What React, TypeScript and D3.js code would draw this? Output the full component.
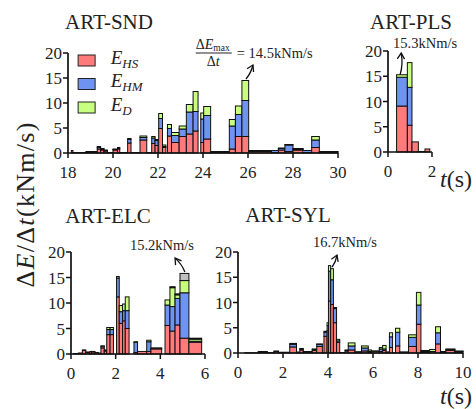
import React from "react";
import * as d3 from "d3";

const FONT = "Liberation Serif";

// each bar: [t0, t1, E_HS, E_HM, E_D, other]
const sndBars: number[][] = [
  [18.15, 18.22, 0.5, 0, 0, 0],
  [18.22, 18.8, 0.1, 0, 0, 0],
  [18.8, 19.3, 0.2, 0, 0.1, 0],
  [19.3, 19.45, 0.8, 0.3, 0.2, 0],
  [19.45, 19.6, 0.6, 0.2, 0.1, 0],
  [19.6, 19.75, 0.4, 0.1, 0.1, 0],
  [19.75, 20.0, 0.1, 0, 0, 0],
  [20.0, 20.2, 0.6, 0.1, 0.1, 0],
  [20.2, 20.3, 0.8, 0.2, 0.1, 0],
  [20.3, 20.65, 0.1, 0, 0, 0],
  [20.65, 20.8, 2.0, 0.7, 0.2, 0],
  [20.8, 21.2, 0.1, 0, 0, 0],
  [21.2, 21.5, 2.6, 0.5, 0.3, 0],
  [21.5, 21.72, 0.1, 0, 0, 0],
  [21.72, 21.87, 1.9, 1.1, 0.3, 0],
  [21.87, 22.0, 1.5, 1.0, 0.2, 0],
  [22.03, 22.2, 4.9, 2.0, 1.0, 0],
  [22.2, 22.35, 1.1, 0.2, 0.3, 0],
  [22.42, 22.6, 3.4, 1.5, 0.8, 0],
  [22.6, 22.94, 2.1, 1.4, 0.6, 0],
  [22.94, 23.26, 3.3, 1.5, 0.6, 0],
  [23.26, 23.56, 3.8, 4.4, 1.5, 0],
  [23.56, 23.78, 4.4, 3.9, 4.0, 0],
  [23.9, 24.03, 2.1, 4.7, 1.2, 0],
  [24.03, 24.34, 2.8, 4.7, 1.8, 0],
  [24.34, 25.17, 0.2, 0, 0.1, 0],
  [25.17, 25.44, 0.8, 4.6, 1.3, 0],
  [25.44, 25.73, 3.3, 4.4, 1.7, 0],
  [25.73, 26.03, 3.3, 7.2, 4.0, 0],
  [26.03, 27.05, 0.3, 0, 0.2, 0],
  [27.05, 27.35, 0.1, 0.4, 0, 0],
  [27.35, 27.64, 0.6, 0.3, 0.1, 0],
  [27.64, 28.0, 0.3, 1.3, 0.1, 0],
  [28.0, 28.45, 0.6, 0.2, 0.1, 0],
  [28.45, 28.83, 0.1, 0.4, 0, 0],
  [28.83, 29.17, 1.1, 1.5, 0.7, 0],
  [29.17, 30.0, 0.2, 0, 0.1, 0],
];

const plsBars: number[][] = [
  [0.39, 0.88, 9.1, 5.7, 0.5, 0],
  [0.88, 1.09, 5.3, 7.5, 4.9, 0],
  [1.09, 1.38, 2.0, 0, 0, 0],
  [1.38, 1.68, 0.1, 0, 0, 0],
  [1.68, 1.9, 0.6, 0, 0, 0],
];

const elcBars: number[][] = [
  [0.1, 0.33, 0.1, 0, 0, 0],
  [0.33, 0.51, 0.2, 0, 0, 0],
  [0.51, 0.66, 0.7, 0.1, 0, 0],
  [0.66, 0.85, 0.3, 0.1, 0, 0],
  [0.85, 0.92, 0.5, 0, 0, 0],
  [0.92, 1.07, 0.4, 0.1, 0, 0],
  [1.07, 1.22, 0.3, 0, 0, 0],
  [1.22, 1.34, 0.2, 0, 0, 0],
  [1.34, 1.49, 1.2, 0.3, 0.1, 0],
  [1.49, 1.6, 0.6, 0.2, 0, 0],
  [1.6, 1.75, 3.8, 1.0, 0.4, 0],
  [1.75, 1.9, 3.8, 1.0, 0.4, 0],
  [2.04, 2.16, 11.2, 3.7, 0.3, 0],
  [2.16, 2.31, 6.0, 2.3, 1.2, 0],
  [2.31, 2.43, 6.5, 2.0, 1.3, 0],
  [2.43, 2.6, 5.0, 3.5, 2.7, 0],
  [2.82, 2.98, 0.3, 2.0, 0.1, 0],
  [2.98, 3.39, 0.5, 0, 0, 0],
  [3.39, 3.58, 0.5, 1.9, 0.3, 0],
  [3.58, 4.06, 1.0, 0.1, 0.1, 0],
  [4.21, 4.43, 5.6, 4.0, 1.0, 0],
  [4.43, 4.66, 4.5, 4.8, 3.7, 0.2],
  [4.66, 4.88, 5.7, 5.2, 0.7, 0.2],
  [4.88, 5.28, 3.1, 8.9, 2.4, 1.4],
  [5.28, 5.85, 2.3, 0.2, 0.4, 0.2],
];

const sylBars: number[][] = [
  [0.3, 0.9, 0.05, 0, 0, 0],
  [0.9, 1.3, 0.2, 0.1, 0, 0],
  [1.3, 1.6, 0.1, 0, 0, 0],
  [1.6, 1.8, 0.3, 0.1, 0, 0],
  [1.8, 2.3, 0.1, 0.05, 0, 0],
  [2.3, 2.6, 1.2, 0.5, 0.2, 0],
  [2.6, 2.75, 0.2, 0, 0, 0],
  [2.75, 2.9, 0.6, 0.2, 0.1, 0],
  [2.9, 3.3, 0.2, 0.1, 0, 0],
  [3.3, 3.5, 0.5, 0.2, 0.1, 0],
  [3.5, 3.75, 1.3, 0.4, 0.1, 0],
  [3.75, 3.82, 0.1, 0, 0, 0],
  [3.82, 3.96, 3.3, 0.8, 0.2, 0],
  [3.96, 4.02, 4.5, 1.0, 0.5, 0],
  [4.02, 4.12, 10.3, 5.9, 1.1, 0],
  [4.12, 4.24, 9.6, 4.9, 2.2, 0],
  [4.24, 4.38, 6.0, 2.8, 0.2, 0],
  [4.38, 4.52, 2.1, 0.3, 0.3, 0],
  [4.52, 4.76, 0.1, 0, 0, 0],
  [4.76, 4.9, 0.4, 0.1, 0.1, 0],
  [4.9, 5.2, 0.6, 0.8, 0.6, 0],
  [5.2, 5.49, 0.2, 0, 0.05, 0],
  [5.49, 5.79, 0.4, 0.6, 0.4, 0],
  [5.79, 5.93, 0.2, 0.1, 0.3, 0],
  [5.93, 6.28, 0.3, 0.05, 0.05, 0],
  [6.28, 6.43, 0.3, 0.5, 0.3, 0],
  [6.43, 6.58, 0.5, 0.3, 0.7, 0],
  [6.58, 6.73, 0.1, 0.05, 0.05, 0],
  [6.73, 6.87, 1.1, 2.1, 0.8, 0],
  [6.87, 7.0, 0.05, 0, 0, 0],
  [7.0, 7.19, 1.4, 2.7, 0.8, 0],
  [7.19, 7.58, 0.1, 0.05, 0.05, 0],
  [7.58, 7.93, 1.3, 1.8, 0.5, 0],
  [7.93, 8.13, 5.7, 3.8, 2.5, 0],
  [8.13, 8.52, 0.2, 0.1, 0.2, 0],
  [8.52, 8.78, 0.3, 0, 0.4, 0],
  [8.78, 9.0, 1.8, 2.2, 1.2, 0],
  [9.0, 9.24, 0.2, 0.05, 0.05, 0],
  [9.24, 9.64, 0.5, 0.2, 0.1, 0],
  [9.64, 10.0, 0.2, 0.1, 0.1, 0],
];

const yTicks = [0, 5, 10, 15, 20];
const sndTicks = [18, 20, 22, 24, 26, 28, 30];
const plsTicks = [0, 2];
const elcTicks = [0, 2, 4, 6];
const sylTicks = [0, 2, 4, 6, 8, 10];

const seriesColors = ["#ff7b7b", "#6f93f0", "#c8ff80", "#c0c0c0"];
const legendLabels = [
  ["E", "HS"],
  ["E", "HM"],
  ["E", "D"],
];

type Ann = { label: string; text: [number, number]; from: [number, number]; to: [number, number] };

const panels = [
  { title: "ART-SND", bars: sndBars, domain: [18, 30], ticks: sndTicks, px: [68, 338], py: [153, 53], title_: [109, 29],
    ann: { label: "= 14.5kNm/s", text: [25.5, 19.0], from: [25.91, 14.8], to: [26.22, 17.6] } as Ann },
  { title: "ART-PLS", bars: plsBars, domain: [0, 2], ticks: plsTicks, px: [388, 432], py: [152, 51], title_: [411, 29],
    ann: { label: "15.3kNm/s", text: [0.23, 20.6], from: [0.55, 15.3], to: [0.6, 19.6] } as Ann },
  { title: "ART-ELC", bars: elcBars, domain: [0, 6], ticks: elcTicks, px: [71, 205], py: [354, 252], title_: [108, 223],
    ann: { label: "15.2kNm/s", text: [2.64, 20.4], from: [5.1, 16.1], to: [4.66, 18.8] } as Ann },
  { title: "ART-SYL", bars: sylBars, domain: [0, 10], ticks: sylTicks, px: [238, 463], py: [353, 252], title_: [288, 222],
    ann: { label: "16.7kNm/s", text: [3.33, 21.0], from: [4.18, 17.0], to: [4.4, 19.4] } as Ann },
];

function Arrow({ x1, y1, x2, y2 }: { x1: number; y1: number; x2: number; y2: number }) {
  const ang = Math.atan2(y2 - y1, x2 - x1);
  const L = 7;
  const a1 = ang + Math.PI - 0.55;
  const a2 = ang + Math.PI + 0.55;
  const mx = (x1 + x2) / 2 - (y2 - y1) * 0.12;
  const my = (y1 + y2) / 2 + (x2 - x1) * 0.12;
  return (
    <g fill="none" stroke="#111" strokeWidth={1.3}>
      <path d={`M${x1},${y1} Q${mx},${my} ${x2},${y2}`} />
      <path
        d={`M${x2 + L * Math.cos(a1)},${y2 + L * Math.sin(a1)} L${x2},${y2} L${x2 + L * Math.cos(a2)},${y2 + L * Math.sin(a2)}`}
      />
    </g>
  );
}

function PanelView({ p, idx }: { p: (typeof panels)[number]; idx: number }) {
  const x = d3.scaleLinear().domain(p.domain).range(p.px);
  const y = d3.scaleLinear().domain([0, 20]).range(p.py);
  const ann = p.ann;
  return (
    <g>
      <text x={p.title_[0]} y={p.title_[1]} textAnchor="middle" fill="#222" fontFamily={FONT} fontSize={21}>
        {p.title}
      </text>
      {p.bars.map((b, i) => {
        let acc = 0;
        const segs = [b[2], b[3], b[4], b[5]];
        return (
          <g key={i}>
            {segs.map((v, k) => {
              if (v <= 0) return null;
              const y0 = y(acc);
              acc += v;
              const y1 = y(acc);
              return (
                <rect
                  key={k}
                  x={x(b[0])}
                  y={y1}
                  width={Math.max(0.5, x(b[1]) - x(b[0]))}
                  height={Math.max(0.3, y0 - y1)}
                  fill={seriesColors[k]}
                  stroke="#111"
                  strokeWidth={1}
                />
              );
            })}
          </g>
        );
      })}
      <line x1={p.px[0]} x2={p.px[1]} y1={p.py[0]} y2={p.py[0]} stroke="#111" strokeWidth={1.7} />
      <line x1={p.px[0]} x2={p.px[0]} y1={p.py[0]} y2={p.py[1]} stroke="#111" strokeWidth={1.7} />
      {p.ticks.map((t) => (
        <g key={"xt" + t}>
          <line x1={x(t)} x2={x(t)} y1={p.py[0]} y2={p.py[0] + 5} stroke="#111" strokeWidth={1.5} />
          <text x={x(t)} y={p.py[0] + 25} textAnchor="middle" fill="#222" fontFamily={FONT} fontSize={17}>
            {t}
          </text>
        </g>
      ))}
      {yTicks.map((t) => (
        <g key={"yt" + t}>
          <line x1={p.px[0] - 5} x2={p.px[0]} y1={y(t)} y2={y(t)} stroke="#111" strokeWidth={1.5} />
          <text x={p.px[0] - 6} y={y(t) + 6} textAnchor="end" fill="#222" fontFamily={FONT} fontSize={17}>
            {t}
          </text>
        </g>
      ))}
      <Arrow x1={x(ann.from[0])} y1={y(ann.from[1])} x2={x(ann.to[0])} y2={y(ann.to[1])} />
      <text x={x(ann.text[0])} y={y(ann.text[1])} fill="#222" fontFamily={FONT} fontSize={14.5}>
        {ann.label}
      </text>
      {idx === 0 && (
        <g fill="#222">
          <text x={x(ann.text[0]) - 41} y={y(ann.text[1]) - 9} fontFamily={FONT} fontSize={14}>
            Δ<tspan fontStyle="italic">E</tspan>
            <tspan fontSize={9.5} dy={2}>max</tspan>
          </text>
          <line
            x1={x(ann.text[0]) - 41}
            x2={x(ann.text[0]) - 5}
            y1={y(ann.text[1]) - 5}
            y2={y(ann.text[1]) - 5}
            stroke="#222"
            strokeWidth={1}
          />
          <text x={x(ann.text[0]) - 30} y={y(ann.text[1]) + 8} fontFamily={FONT} fontSize={14}>
            Δ<tspan fontStyle="italic">t</tspan>
          </text>
        </g>
      )}
      {idx === 0 &&
        legendLabels.map((l, i) => (
          <g key={"lg" + i}>
            <rect
              x={x(18.45)}
              y={y(19.6 - i * 4.7)}
              width={17}
              height={11}
              fill={seriesColors[i]}
              stroke="#222"
              strokeWidth={1}
            />
            <text x={x(19.9)} y={y(17.9 - i * 4.7)} fill="#222" fontFamily={FONT} fontSize={19} fontStyle="italic">
              {l[0]}
              <tspan fontSize={13} dy={4}>
                {l[1]}
              </tspan>
            </text>
          </g>
        ))}
    </g>
  );
}

export default function App() {
  return (
    <svg width={476} height={409} viewBox="0 0 476 409" style={{ position: "absolute", left: 0, top: 0, background: "#fff" }}>
      <rect x={0} y={0} width={476} height={409} fill="#fff" />
      {panels.map((p, i) => (
        <PanelView key={p.title} p={p} idx={i} />
      ))}
      <text
        transform="translate(34,205) rotate(-90)"
        textAnchor="middle"
        fill="#222"
        fontFamily={FONT}
        fontSize={26}
        textLength={165}
        lengthAdjust="spacing"
      >
        Δ<tspan fontStyle="italic">E</tspan>/Δ<tspan fontStyle="italic">t</tspan>(kNm/s)
      </text>
      <text x={440} y={187} fill="#222" fontFamily={FONT} fontSize={24}>
        <tspan fontStyle="italic">t</tspan>(s)
      </text>
      <text x={440} y={404} fill="#222" fontFamily={FONT} fontSize={24}>
        <tspan fontStyle="italic">t</tspan>(s)
      </text>
    </svg>
  );
}
